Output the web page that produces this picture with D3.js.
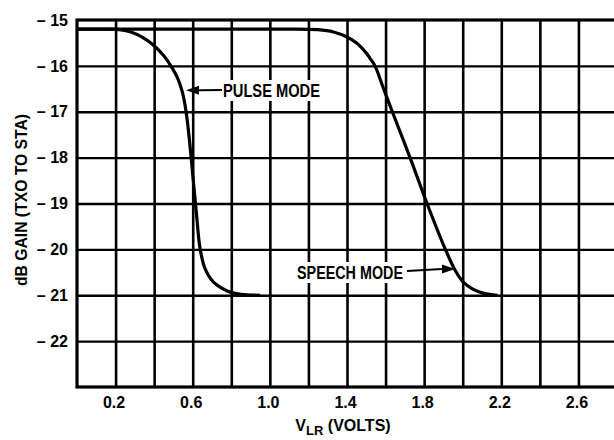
<!DOCTYPE html>
<html>
<head>
<meta charset="utf-8">
<script src="https://cdn.jsdelivr.net/npm/d3@7"></script>
<style>
  body { margin: 0; background: #fff; }
  text { font-family: "Liberation Sans", Arial, sans-serif; font-weight: bold; fill: #000; }
</style>
</head>
<body>
<script>
// Axis ticks
var xTicks = [0.2, 0.6, 1.0, 1.4, 1.8, 2.2, 2.6];
var yTicks = [-15, -16, -17, -18, -19, -20, -21, -22];

// Pulse mode curve (volts, dB)
var pulseV    = [0, 0.15, 0.22, 0.28, 0.34, 0.40, 0.45, 0.49, 0.52, 0.545, 0.56, 0.572, 0.585, 0.603, 0.62, 0.638, 0.664, 0.707, 0.776, 0.85, 0.95];
var pulseGain = [-15.2, -15.2, -15.21, -15.26, -15.38, -15.56, -15.78, -16.02, -16.25, -16.55, -16.85, -17.2, -17.7, -18.5, -19.25, -19.98, -20.42, -20.71, -20.9, -20.98, -21.0];

// Speech mode curve (volts, dB)
var speechV    = [0, 1.0, 1.25, 1.33, 1.40, 1.45, 1.50, 1.52, 1.545, 1.59, 1.635, 1.727, 1.815, 1.91, 1.96, 2.0, 2.05, 2.11, 2.18];
var speechGain = [-15.2, -15.2, -15.21, -15.26, -15.37, -15.5, -15.72, -15.84, -16.0, -16.5, -17.0, -18.0, -19.0, -20.0, -20.45, -20.7, -20.86, -20.96, -21.0];

// Size of the picture and of the plot box
var width = 614, height = 440;
var plot = {left: 77, right: 617, top: 20, bottom: 387};

var svg = d3.select("body").append("svg")
    .attr("width", width)
    .attr("height", height);

var x = d3.scaleLinear().domain([0, 2.8]).range([plot.left, plot.right]);
var y = d3.scaleLinear().domain([-23, -15]).range([plot.bottom, plot.top]);

// Grid lines every 0.2 V and every 1 dB
var vGrid = d3.range(0.2, 2.7, 0.2);
var hGrid = d3.range(-22, -15, 1);

svg.append("g")
    .attr("transform", "translate(0," + plot.bottom + ")")
    .call(d3.axisBottom(x).tickValues(vGrid).tickSize(-(plot.bottom - plot.top)).tickFormat(""))
    .call(function(g) { g.select(".domain").remove(); })
    .selectAll("line").attr("stroke", "#000").attr("stroke-width", 2.6);

svg.append("g")
    .attr("transform", "translate(" + plot.left + ",0)")
    .call(d3.axisLeft(y).tickValues(hGrid).tickSize(-(plot.right - plot.left)).tickFormat(""))
    .call(function(g) { g.select(".domain").remove(); })
    .selectAll("line").attr("stroke", "#000").attr("stroke-width", 2.4);

// plot border
svg.append("rect")
    .attr("x", plot.left).attr("y", plot.top)
    .attr("width", plot.right - plot.left)
    .attr("height", plot.bottom - plot.top)
    .attr("fill", "none")
    .attr("stroke", "#000")
    .attr("stroke-width", 3.2);

// Tick labels
var yAxis = svg.append("g")
    .attr("transform", "translate(68,0)")
    .call(d3.axisLeft(y).tickValues(yTicks).tickSize(0).tickPadding(0)
      .tickFormat(function(d) { return "\u2013 " + Math.abs(d); }));
yAxis.select(".domain").remove();
yAxis.selectAll("text")
    .attr("font-size", 16)
    .attr("font-family", "Liberation Sans, Arial, sans-serif")
    .attr("font-weight", "bold")
    .attr("fill", "#000");

var xAxis = svg.append("g")
    .attr("transform", "translate(-2," + (plot.bottom + 8) + ")")
    .call(d3.axisBottom(x).tickValues(xTicks).tickSize(0).tickPadding(2)
      .tickFormat(d3.format(".1f")));
xAxis.select(".domain").remove();
xAxis.selectAll("text")
    .attr("font-size", 16)
    .attr("font-family", "Liberation Sans, Arial, sans-serif")
    .attr("font-weight", "bold")
    .attr("fill", "#000");

// Axis titles
var xt = svg.append("text")
    .attr("x", 343).attr("y", 431)
    .attr("text-anchor", "middle")
    .attr("font-size", 16);
xt.append("tspan").text("V");
xt.append("tspan").attr("dy", 4).attr("font-size", 13).text("LR");
xt.append("tspan").attr("dy", -4).text(" (VOLTS)");

svg.append("text")
    .attr("transform", "translate(27,200) rotate(-90)")
    .attr("text-anchor", "middle")
    .attr("font-size", 16)
    .attr("textLength", 172)
    .attr("lengthAdjust", "spacingAndGlyphs")
    .text("dB GAIN (TXO TO STA)");

// Curves
var line = d3.line()
    .x(function(d) { return x(d[0]); })
    .y(function(d) { return y(d[1]); })
    .curve(d3.curveCatmullRom.alpha(0.5));

var pulse = d3.zip(pulseV, pulseGain);
var speech = d3.zip(speechV, speechGain);

[pulse, speech].forEach(function(s) {
  svg.append("path")
      .attr("d", line(s))
      .attr("fill", "none")
      .attr("stroke", "#000")
      .attr("stroke-width", 3.2)
      .attr("stroke-linejoin", "round");
});

// Curve labels with arrows
function label(txt, tx, ty, len, from, to) {
  svg.append("rect")
      .attr("x", tx - 2).attr("y", ty - 17)
      .attr("width", len + 4).attr("height", 21)
      .attr("fill", "#fff");
  svg.append("text")
      .attr("x", tx).attr("y", ty)
      .attr("font-size", 19)
      .attr("textLength", len)
      .attr("lengthAdjust", "spacingAndGlyphs")
      .text(txt);

  var dir = to[0] > from[0] ? 1 : -1;
  var baseX = to[0] - dir * 13;
  svg.append("line")
      .attr("x1", from[0]).attr("y1", from[1])
      .attr("x2", baseX).attr("y2", to[1])
      .attr("stroke", "#000").attr("stroke-width", 2);
  svg.append("path")
      .attr("d", "M" + to[0] + "," + to[1] + "L" + baseX + "," + (to[1] - 4.5) + "L" + baseX + "," + (to[1] + 4.5) + "Z")
      .attr("fill", "#000");
}

label("PULSE MODE", 223, 97, 97, [222, 90], [x(0.565), y(-16.53)]);
label("SPEECH MODE", 297, 279, 106, [407, 271], [x(1.96), y(-20.43)]);
</script>
</body>
</html>
